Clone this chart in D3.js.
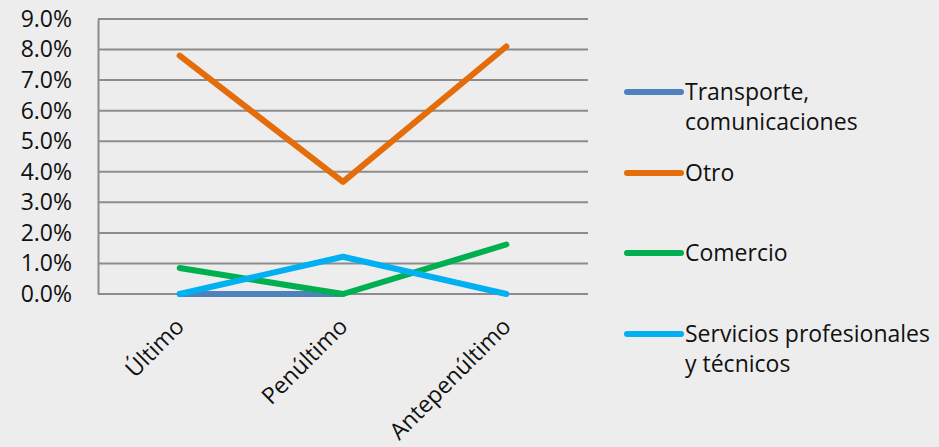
<!DOCTYPE html>
<html><head><meta charset="utf-8">
<script src="https://cdn.jsdelivr.net/npm/d3@7"></script>
<style>
html,body{margin:0;padding:0;background:#EDEDED;}
svg{display:block;}
text{font-family:"Open Sans","Noto Sans",sans-serif;fill:#111;}
</style></head>
<body>
<svg id="c" width="939" height="447"></svg>
<script>
const categories = ["Último", "Penúltimo", "Antepenúltimo"];
const seriesNames = ["Transporte, comunicaciones", "Otro", "Comercio", "Servicios profesionales y técnicos"];
const transporte = [0.0, 0.0, null];
const otro = [7.8, 3.67, 8.1];
const comercio = [0.85, 0.0, 1.62];
const servicios = [0.0, 1.22, 0.0];
const yTicks = [0, 1, 2, 3, 4, 5, 6, 7, 8, 9];
const legendLabels = [["Transporte,", "comunicaciones"], ["Otro"], ["Comercio"], ["Servicios profesionales", "y técnicos"]];
const colors = ["#4F81BD", "#E46C0A", "#00B050", "#00B0F0"];
const allSeries = [transporte, otro, comercio, servicios];

(function () {
const svg = d3.select("#c");
const mLeft = 98, mRight = 588, mTop = 19, mBottom = 294;
const fs = "23px";
const ff = "'Open Sans','Noto Sans',sans-serif";
const x = d3.scaleBand().domain(categories).range([mLeft, mRight]);
const y = d3.scaleLinear().domain([0, 9]).range([mBottom, mTop]);

// gridlines
svg.append("g").selectAll("line").data(yTicks).join("line")
  .attr("x1", mLeft).attr("x2", mRight)
  .attr("y1", d => y(d)).attr("y2", d => y(d))
  .attr("stroke", "#8C8C8C").attr("stroke-width", 2);

// y axis
const yAxis = d3.axisLeft(y).tickValues(yTicks).tickSize(0).tickPadding(26)
  .tickFormat(d => d.toFixed(1) + "%");
const gy = svg.append("g").attr("transform", `translate(${mLeft},0)`).call(yAxis);
gy.select(".domain").attr("stroke", "#8C8C8C").attr("stroke-width", 2);
gy.selectAll("text").style("font-size", fs).style("font-family", ff).attr("fill", "#111");

// x axis labels
const xAxis = d3.axisBottom(x).tickSize(0).tickPadding(0);
const gx = svg.append("g").attr("transform", `translate(0,${mBottom})`).call(xAxis);
gx.select(".domain").remove();
gx.selectAll("text")
  .style("font-size", fs).style("font-family", ff).attr("fill", "#111")
  .attr("text-anchor", "end")
  .attr("y", 0).attr("dy", "0")
  .attr("transform", "translate(6,34) rotate(-45)");

// lines
const line = d3.line()
  .defined(d => d !== null)
  .x((d, i) => x(categories[i]) + x.bandwidth() / 2).y(d => y(d));
svg.append("g").selectAll("path").data(allSeries).join("path")
  .attr("d", d => line(d))
  .attr("fill", "none")
  .attr("stroke", (d, i) => colors[i])
  .attr("stroke-width", 6)
  .attr("stroke-linecap", "round")
  .attr("stroke-linejoin", "round");

// legend
const legendY = [92, 173, 253, 334];
const lg = svg.append("g").selectAll("g").data(seriesNames).join("g")
  .attr("transform", (d, i) => `translate(0,${legendY[i]})`);
lg.append("line").attr("x1", 627).attr("x2", 681).attr("y1", 0).attr("y2", 0)
  .attr("stroke", (d, i) => colors[i]).attr("stroke-width", 6).attr("stroke-linecap", "round");
lg.append("text").attr("x", 685).attr("y", 8)
  .style("font-size", fs).style("font-family", ff)
  .selectAll("tspan").data((d, i) => legendLabels[i]).join("tspan")
  .attr("x", 685).attr("dy", (d, j) => j === 0 ? 0 : 30)
  .text(d => d);
})();
</script>
</body></html>
